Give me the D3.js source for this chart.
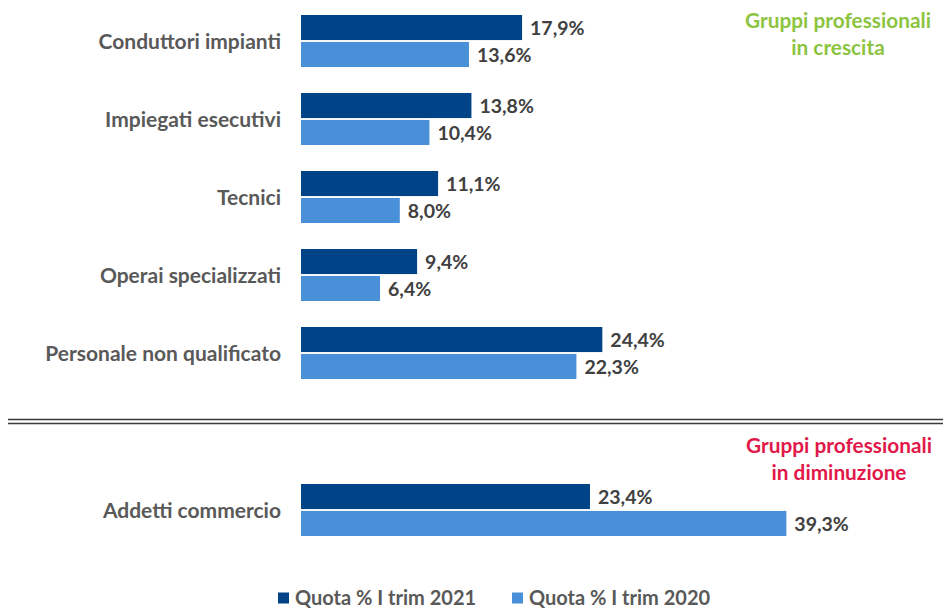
<!DOCTYPE html>
<html>
<head>
<meta charset="utf-8">
<script src="https://cdn.jsdelivr.net/npm/d3@7"></script>
<style>
  html, body { margin: 0; padding: 0; background: #ffffff; }
  svg { display: block; }
  text { font-family: Lato, "Open Sans", sans-serif; }
</style>
</head>
<body>
<svg id="chart" width="943" height="608"></svg>
<script>
const upperCategories = ["Conduttori impianti", "Impiegati esecutivi", "Tecnici", "Operai specializzati", "Personale non qualificato"];
const lowerCategories = ["Addetti commercio"];
const seriesNames = ["Quota % I trim 2021", "Quota % I trim 2020"];
const upper2021 = [17.9, 13.8, 11.1, 9.4, 24.4];
const upper2020 = [13.6, 10.4, 8.0, 6.4, 22.3];
const lower2021 = [23.4];
const lower2020 = [39.3];
const growthNote = ["Gruppi professionali", "in crescita"];
const declineNote = ["Gruppi professionali", "in diminuzione"];

const colors = ["#004387", "#4a90d9"];
const labelGrey = "#595959";
const valueGrey = "#404040";

const svg = d3.select("#chart");
const locale = d3.formatLocale({decimal: ",", thousands: ".", grouping: [3], currency: ["", "€"]});
const fmt = v => locale.format(".1f")(v) + "%";

const x = d3.scaleLinear().domain([0, 40]).range([301, 301 + 40 * 12.35]);

function section(cats, v21, v20, r0, r1) {
  const y = d3.scaleBand().domain(cats).range([r0, r1]).paddingInner(1/3).paddingOuter(1/6);
  const ys = d3.scaleBand().domain(seriesNames).range([0, y.bandwidth()]).paddingInner(0.07);
  const rows = cats.map((c, i) => ({cat: c, vals: [v21[i], v20[i]]}));
  const g = svg.append("g");
  const grp = g.selectAll("g.grp").data(rows).join("g")
    .attr("transform", d => `translate(0,${y(d.cat)})`);
  grp.selectAll("rect").data(d => d.vals.map((v, j) => ({v, s: seriesNames[j], j}))).join("rect")
    .attr("x", x(0))
    .attr("y", d => ys(d.s))
    .attr("width", d => x(d.v) - x(0))
    .attr("height", ys.bandwidth())
    .attr("fill", d => colors[d.j]);
  grp.selectAll("text.val").data(d => d.vals.map((v, j) => ({v, s: seriesNames[j], j}))).join("text")
    .attr("class", "val")
    .attr("x", d => x(d.v) + 8)
    .attr("y", d => ys(d.s) + ys.bandwidth() / 2)
    .attr("dy", "0.38em")
    .attr("font-size", 19.5)
    .attr("font-weight", 700)
    .attr("fill", valueGrey)
    .text(d => fmt(d.v));
  const ax = d3.axisLeft(y).tickSize(0).tickPadding(0);
  const axg = g.append("g").attr("transform", `translate(281,0)`).call(ax);
  axg.select(".domain").remove();
  axg.selectAll("text")
    .attr("font-size", 21)
    .attr("font-weight", 700)
    .attr("fill", labelGrey)
    .attr("font-family", "Lato, sans-serif")
    .attr("dy", "0.38em");
}

section(upperCategories, upper2021, upper2020, 2, 392);
section(lowerCategories, lower2021, lower2020, 471, 549);

[419.5, 423.5].forEach(yy => {
  svg.append("line").attr("x1", 8).attr("x2", 943).attr("y1", yy).attr("y2", yy)
    .attr("stroke", "#3a3a3a").attr("stroke-width", 1.6);
});

function note(lines, cx, y0, color) {
  const t = svg.append("text").attr("text-anchor", "middle").attr("fill", color)
    .attr("font-size", 20.8).attr("font-weight", 700);
  lines.forEach((l, i) => t.append("tspan").attr("x", cx).attr("y", y0 + i * 26.5).text(l));
}
note(growthNote, 838, 28, "#8cc43f");
note(declineNote, 839, 453, "#e1194a");

const legX = [278, 512];
const leg = svg.append("g");
seriesNames.forEach((s, i) => {
  leg.append("rect").attr("x", legX[i]).attr("y", 592.5).attr("width", 11).attr("height", 11).attr("fill", colors[i]);
  leg.append("text").attr("x", legX[i] + 17).attr("y", 604.5)
    .attr("font-size", 20).attr("font-weight", 700).attr("fill", labelGrey).text(s);
});
</script>
</body>
</html>
